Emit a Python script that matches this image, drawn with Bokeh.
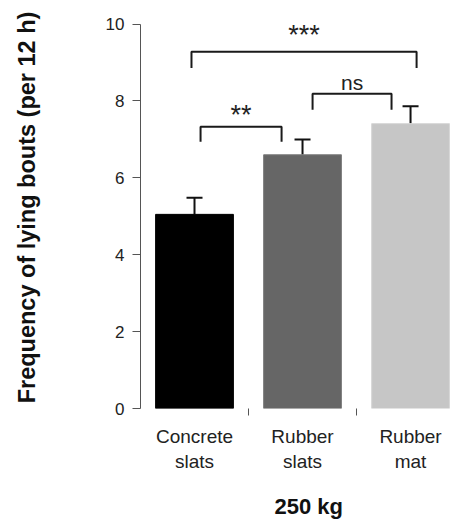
import math
from bokeh.plotting import figure
from bokeh.models import (ColumnDataSource, Range1d, FixedTicker, Whisker, TeeHead, Title)
from bokeh.embed import file_html
from bokeh.resources import INLINE
from bokeh.core.properties import value

# ---- data ----
categories = ["Concrete\nslats", "Rubber\nslats", "Rubber\nmat"]
means = [5.05, 6.60, 7.41]
errors = [0.43, 0.40, 0.45]
bar_colors = ["#000000", "#666666", "#c6c6c6"]
y_ticks = [0, 2, 4, 6, 8, 10]

sig_labels = ["**", "ns", "***"]
bracket_x0 = [0.556, 1.593, 0.472]
bracket_x1 = [1.306, 2.324, 2.556]
bracket_top = [7.33, 8.19, 9.28]
bracket_bottom = [6.94, 7.77, 8.86]
label_y = [7.64, 8.47, 9.72]

group_label = "250 kg"
y_title = "Frequency of lying bouts (per 12 h)"

FONT = "Liberation Sans"

centers = [i + 0.5 for i in range(len(categories))]
src = ColumnDataSource(dict(
    x=centers, mean=means,
    upper=[m + e for m, e in zip(means, errors)],
    color=bar_colors,
    edge=["#000000", "#7c7c7c", "#d6d6d6"],
))

p = figure(width=462, height=523, output_backend="svg", toolbar_location=None,
           x_range=Range1d(0, 2.981), y_range=Range1d(0, 10.457),
           min_border_left=140, min_border_right=0, min_border_top=6,
           min_border_bottom=115)
p.outline_line_color = None
p.xgrid.visible = False
p.ygrid.visible = False
p.background_fill_color = "white"
p.border_fill_color = "white"

p.vbar(x="x", top="mean", bottom=0, width=0.72, fill_color="color",
       line_color="edge", line_width=1, source=src)

wh = Whisker(source=src, base="x", lower="mean", upper="upper",
             upper_head=TeeHead(size=16, line_width=2, line_color="#111111"),
             lower_head=None, line_width=2, line_color="#111111")
p.add_layout(wh)

# significance brackets
xs = [[a, a, b, b] for a, b in zip(bracket_x0, bracket_x1)]
ys = [[lo, hi, hi, lo] for lo, hi in zip(bracket_bottom, bracket_top)]
p.multi_line(xs=xs, ys=ys, line_width=2, line_color="#1a1a1a")
tsrc = ColumnDataSource(dict(
    x=[(a + b) / 2 for a, b in zip(bracket_x0, bracket_x1)], y=label_y,
    text=sig_labels, size=["27px", "21px", "27px"]))
p.text(x="x", y="y", text="text", source=tsrc, text_align="center",
       text_baseline="middle", text_font=value(FONT),
       text_font_size="size", text_color="#222222")

# y axis
ya = p.yaxis[0]
ya.ticker = FixedTicker(ticks=y_ticks)
ya.bounds = (0, 10)
ya.axis_line_color = "#555555"
ya.major_tick_line_color = "#555555"
ya.major_tick_out = 8
ya.major_tick_in = 0
ya.minor_tick_line_color = None
ya.major_label_standoff = 8
ya.major_label_text_font = FONT
ya.major_label_text_font_size = "17px"
ya.major_label_text_color = "#222222"
ya.axis_label = y_title
ya.axis_label_standoff = 63
ya.axis_label_text_font = FONT
ya.axis_label_text_font_style = "bold"
ya.axis_label_text_font_size = "23.5px"
ya.axis_label_text_color = "#111111"

# x axis
xa = p.xaxis[0]
xa.ticker = FixedTicker(ticks=centers, minor_ticks=[1, 2])
xa.major_label_overrides = {c: lab for c, lab in zip(centers, categories)}
xa.axis_line_color = None
xa.major_tick_line_color = None
xa.major_tick_out = 0
xa.major_tick_in = 0
xa.minor_tick_line_color = "#555555"
xa.minor_tick_out = 7
xa.minor_tick_in = 0
xa.major_label_standoff = 10
xa.major_label_text_font = FONT
xa.major_label_text_font_size = "19px"
xa.major_label_text_color = "#222222"
# invisible spacer between category labels and group title
xa.axis_label = "\u00a0"
xa.axis_label_text_font_size = "1px"
xa.axis_label_standoff = 8

t = Title(text=group_label, align="left", offset=134,
          text_font=FONT, text_font_style="bold", text_font_size="22px",
          text_color="#111111")
p.add_layout(t, "below")

open("out.html", "w").write(file_html(p, INLINE))
